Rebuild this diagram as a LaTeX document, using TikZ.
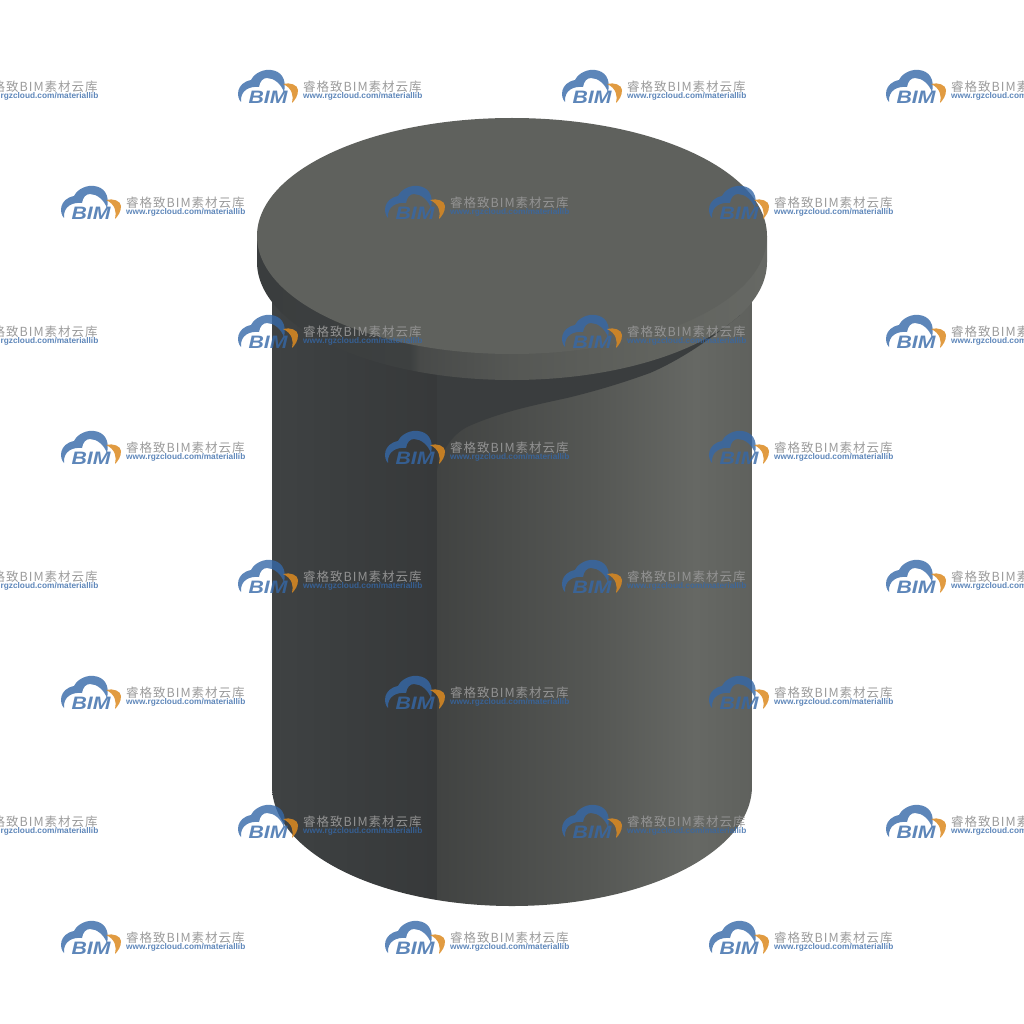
\documentclass[tikz,border=0pt]{standalone}
\usepackage{fontspec}
\setsansfont{Liberation Sans}
\newfontfamily\cjkfont[LetterSpace=8]{Noto Sans CJK SC}
\usetikzlibrary{calc}
\definecolor{topface}{HTML}{5F615D}
\definecolor{shadowside}{HTML}{3A3D3E}
\definecolor{logoblue}{HTML}{3568A8}
\definecolor{logoorange}{HTML}{DC8A20}
\definecolor{logogray}{HTML}{969696}
\definecolor{bodya}{HTML}{3F4243}
\definecolor{bodyb}{HTML}{3A3D3E}
\definecolor{bodyc}{HTML}{37393A}
\definecolor{bodyd}{HTML}{414342}
\definecolor{bodye}{HTML}{555754}
\definecolor{bodyf}{HTML}{666864}
\definecolor{rima}{HTML}{3D4040}
\definecolor{rimb}{HTML}{484A49}
\definecolor{rimc}{HTML}{555754}
\definecolor{rimd}{HTML}{62645F}
\pgfdeclarehorizontalshading{bodyleft}{100bp}{color(0bp)=(bodya); color(25bp)=(bodya); color(50bp)=(bodyb); color(75bp)=(bodyc); color(100bp)=(bodyc)}
\pgfdeclarehorizontalshading{bodyright}{100bp}{color(0bp)=(bodyd); color(25bp)=(bodyd); color(50bp)=(bodye); color(66bp)=(bodyf); color(75bp)=(topface); color(100bp)=(topface)}
\pgfdeclarehorizontalshading{rimside}{100bp}{color(0bp)=(shadowside); color(25bp)=(shadowside); color(40bp)=(rima); color(41bp)=(rimb); color(50bp)=(rimc); color(65bp)=(rimd); color(75bp)=(bodyf); color(100bp)=(bodyf)}
\newcommand{\bimmark}[3]{%
  \begin{scope}[shift={(#1,#2)}]
    \fill[logoblue,opacity=0.8] (3,32) .. controls (-2,27) and (-2,13) .. (13,10)
      .. controls (17,2) and (27,-1) .. (33,0) .. controls (43,1) and (49,9) .. (46,22)
      .. controls (43,14) and (36,8) .. (29,8) .. controls (25,8) and (22,11) .. (21,17)
      .. controls (12,16) and (2,20) .. (3,32) -- cycle;
    \fill[logoorange,opacity=0.85] (45,14) .. controls (52,12) and (60,15) .. (60,20)
      .. controls (60,26) and (57,30) .. (54,33) .. controls (56,26) and (54,18) .. (45,14) -- cycle;
    \node[bimtext] (bim#3) at (30,27) {\scalebox{1.18}[1]{BIM}};
    \node[nametext] (name#3) at (65,17) {睿格致BIM素材云库};
    \node[urltext] (url#3) at (65,26) {www.rgzcloud.com/materiallib};
  \end{scope}}
\tikzset{
  bimtext/.style={font=\fontsize{18}{18}\selectfont\sffamily\bfseries\itshape,text=logoblue,opacity=0.8,inner sep=0pt},
  nametext/.style={font=\fontsize{12.5}{13}\selectfont\cjkfont,text=logogray,opacity=0.95,anchor=west,inner sep=0pt},
  urltext/.style={font=\fontsize{8.3}{8.3}\selectfont\sffamily\bfseries,text=logoblue,opacity=0.8,anchor=west,inner sep=0pt},
}
\begin{document}
\begin{tikzpicture}[x=1pt,y=-1pt]
  \useasboundingbox (0,0) rectangle (1024,1024);
  \clip (0,0) rectangle (1024,1024);
  % body
  \begin{scope}
    \clip (272,262) -- (272,786) arc[start angle=180,end angle=0,x radius=240,y radius=120] -- (752,262) -- cycle;
    \shade[shading=bodyleft] (272,250) rectangle (437,910);
    \shade[shading=bodyright] (437,250) rectangle (752,910);
    % shadow of the lid
    \fill[shadowside] (437,300) -- (437,470) .. controls (442,450) and (452,435) .. (467,427)
      .. controls (500,412) and (535,405) .. (567,398) .. controls (600,390) and (625,382) .. (650,373)
      .. controls (680,360) and (710,340) .. (740,315) -- cycle;
  \end{scope}
  % lid
  \shade[shading=rimside] (257,236) -- (257,262) arc[start angle=180,end angle=0,x radius=255,y radius=118] -- (767,236) -- cycle;
  \fill[topface] (512,236) ellipse[x radius=255,y radius=118];
  % watermarks
  \foreach \rowy [count=\r] in {70,315,560,805}
    \foreach \colx [count=\c] in {-86,238,562,886}
      \bimmark{\colx}{\rowy}{a\r\c};
  \foreach \rowy [count=\r] in {186,431,676,921}
    \foreach \colx [count=\c] in {61,385,709}
      \bimmark{\colx}{\rowy}{b\r\c};
\end{tikzpicture}
\end{document}
